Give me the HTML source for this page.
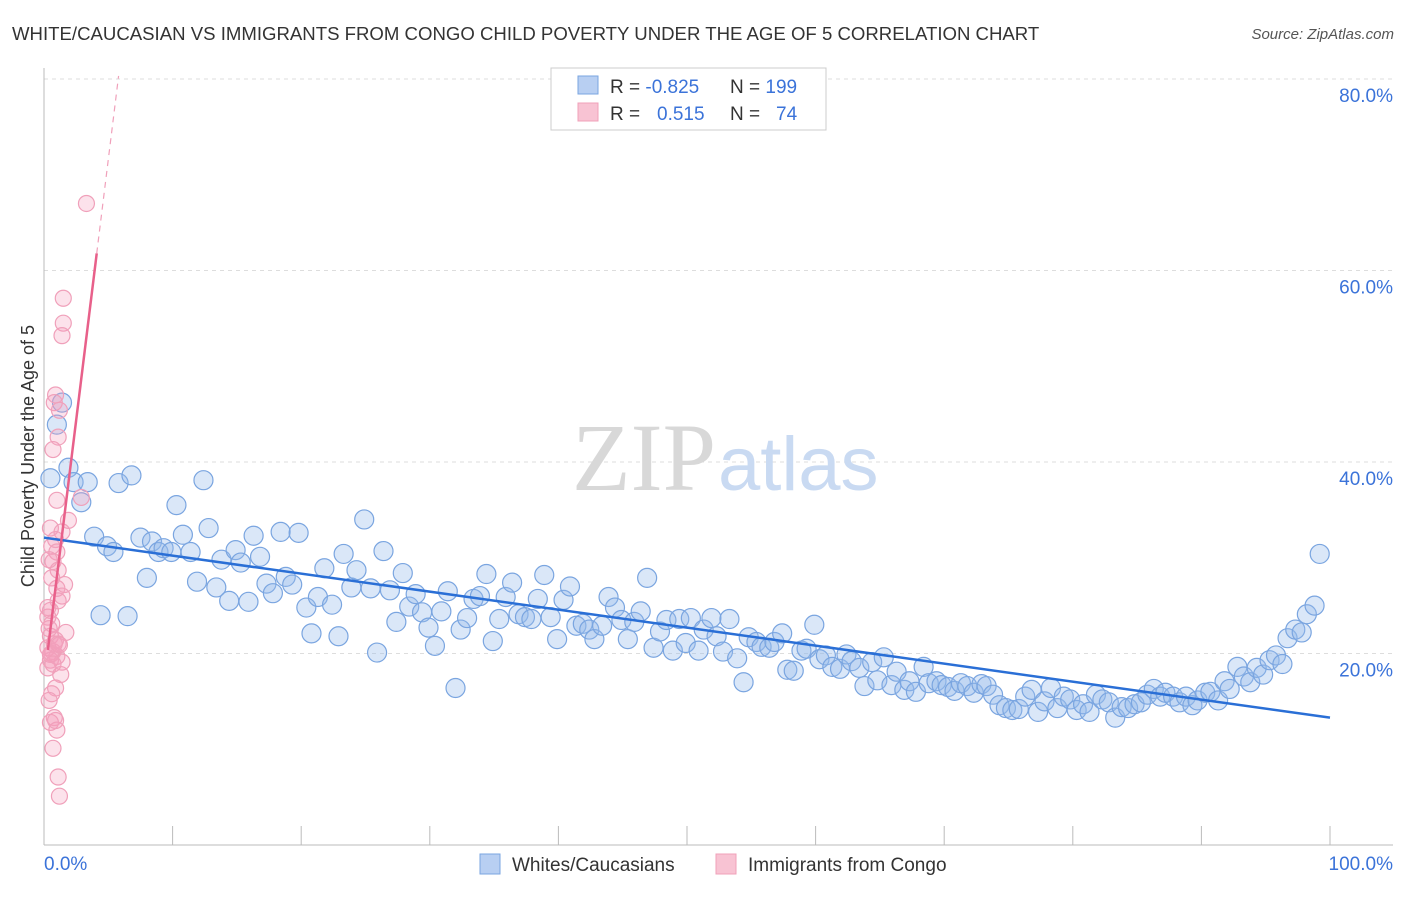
<!DOCTYPE html>
<html><head><meta charset="utf-8"><style>
body{margin:0;background:#fff;font-family:"Liberation Sans",sans-serif;}
svg text{font-family:"Liberation Sans",sans-serif;}
</style></head><body>
<svg id="chart" width="1406" height="892" viewBox="0 0 1406 892" xmlns="http://www.w3.org/2000/svg">
<text x="12" y="40" font-size="18.6" fill="#333">WHITE/CAUCASIAN VS IMMIGRANTS FROM CONGO CHILD POVERTY UNDER THE AGE OF 5 CORRELATION CHART</text>
<text x="1394" y="39" font-size="15" fill="#555" font-style="italic" text-anchor="end">Source: ZipAtlas.com</text>
<g id="grid"></g>
<g id="axes"></g>
<text x="716" y="490" font-size="96" fill="#d8d8d8" text-anchor="end" style="font-family:'Liberation Serif',serif">ZIP</text>
<text x="718" y="490" font-size="76" fill="#c9daf2">atlas</text>
<g id="pts"></g>
<g id="lines"></g>
<text transform="translate(34,456) rotate(-90)" font-size="18" fill="#333" text-anchor="middle">Child Poverty Under the Age of 5</text>
<g>
<rect x="551" y="68" width="275" height="62" fill="#fff" stroke="#ccc"/>
<rect x="578" y="76" width="20" height="18" fill="#b8cff2" stroke="#7aa5e0"/>
<rect x="578" y="103" width="20" height="18" fill="#f8c3d3" stroke="#f0a0ba"/>
<text x="610" y="93" font-size="19" fill="#333">R = <tspan fill="#3b73d9">-0.825</tspan><tspan x="730">N = </tspan><tspan fill="#3b73d9">199</tspan></text>
<text x="610" y="120" font-size="19" fill="#333">R = <tspan x="657" fill="#3b73d9">0.515</tspan><tspan x="730">N = </tspan><tspan x="776" fill="#3b73d9">74</tspan></text>
</g>
<g>
<rect x="480" y="854" width="20" height="20" fill="#b8cff2" stroke="#7aa5e0"/>
<text x="512" y="871" font-size="19" fill="#333">Whites/Caucasians</text>
<rect x="716" y="854" width="20" height="20" fill="#f8c3d3" stroke="#f0a0ba"/>
<text x="748" y="871" font-size="19" fill="#333">Immigrants from Congo</text>
</g>
</svg>
<script>
const yTicks=[20,40,60,80];
const yTickLabels=["20.0%","40.0%","60.0%","80.0%"];
const xTickLabels=["0.0%","100.0%"];
const blueX=[0.5,1.0,1.4,1.9,2.3,2.9,3.4,3.9,4.4,4.9,5.4,5.8,6.5,6.8,8.0,7.5,8.4,8.9,9.3,9.9,10.3,10.8,11.4,11.9,12.4,12.8,13.4,13.8,14.4,14.9,15.3,15.9,16.3,16.8,17.3,17.8,18.4,18.8,19.3,19.8,20.4,20.8,21.3,21.8,22.4,22.9,23.3,23.9,24.3,24.9,25.4,25.9,26.4,26.9,27.4,27.9,28.4,28.9,29.4,29.9,30.4,30.9,31.4,32.0,32.4,32.9,33.4,33.9,34.4,34.9,35.4,35.9,36.4,36.9,37.4,37.9,38.4,38.9,39.4,39.9,40.4,40.9,41.4,41.9,42.4,42.8,43.4,43.9,44.4,44.9,45.4,45.9,46.4,46.9,47.4,47.9,48.4,48.9,49.4,49.9,50.3,50.9,51.3,51.9,52.3,52.8,53.3,53.9,54.4,54.8,55.4,55.8,56.4,56.8,57.4,57.8,58.3,58.9,59.3,59.9,60.3,60.8,61.3,61.9,62.4,62.8,63.4,63.8,64.4,64.8,65.3,65.9,66.3,66.9,67.3,67.8,68.4,68.8,69.4,69.8,70.3,70.8,71.3,71.8,72.3,72.9,73.3,73.8,74.3,74.8,75.3,75.8,76.3,76.8,77.3,77.8,78.3,78.8,79.3,79.8,80.3,80.8,81.3,81.8,82.3,82.8,83.3,83.8,84.3,84.8,85.3,85.8,86.3,86.8,87.2,87.8,88.3,88.8,89.3,89.7,90.3,90.7,91.3,91.8,92.2,92.8,93.3,93.8,94.3,94.8,95.3,95.8,96.3,96.7,97.3,97.8,98.2,98.8,99.2];
const blueY=[38.3,43.9,46.2,39.4,37.9,35.8,37.9,32.2,24.0,31.2,30.6,37.8,23.9,38.6,27.9,32.1,31.7,30.6,31.0,30.6,35.5,32.4,30.6,27.5,38.1,33.1,26.9,29.8,25.5,30.8,29.5,25.4,32.3,30.1,27.3,26.3,32.7,28.0,27.2,32.6,24.8,22.1,25.9,28.9,25.1,21.8,30.4,26.9,28.7,34.0,26.8,20.1,30.7,26.6,23.3,28.4,24.9,26.2,24.3,22.7,20.8,24.4,26.5,16.4,22.5,23.7,25.7,26.0,28.3,21.3,23.6,25.9,27.4,24.1,23.8,23.6,25.7,28.2,23.8,21.5,25.6,27.0,22.9,23.1,22.5,21.5,22.9,25.9,24.8,23.5,21.5,23.3,24.4,27.9,20.6,22.3,23.5,20.3,23.6,21.1,23.7,20.3,22.5,23.7,21.8,20.2,23.6,19.5,17.0,21.7,21.2,20.7,20.6,21.2,22.1,18.3,18.2,20.3,20.5,23.0,19.4,19.8,18.6,18.4,19.9,19.2,18.5,16.6,19.1,17.2,19.6,16.7,18.1,16.2,17.1,16.0,18.6,16.9,17.1,16.7,16.5,16.1,16.9,16.6,15.9,16.8,16.6,15.7,14.6,14.3,14.1,14.2,15.5,16.2,13.9,15.0,16.4,14.3,15.5,15.2,14.1,14.7,13.9,15.7,15.2,14.9,13.3,14.4,14.3,14.7,14.9,15.7,16.3,15.5,15.9,15.5,14.9,15.5,14.6,15.1,15.9,16.0,15.1,17.1,16.3,18.6,17.6,17.0,18.5,17.8,19.3,19.8,18.9,21.6,22.5,22.2,24.1,25.0,30.4];
const pinkX=[3.3,1.5,1.5,1.4,0.9,0.8,1.2,1.1,0.7,2.9,1.0,1.9,0.5,1.4,0.9,0.6,1.0,0.7,1.1,0.6,1.6,1.0,1.4,1.1,0.5,0.3,0.6,1.7,0.5,0.9,1.1,0.3,0.7,1.0,0.5,1.4,0.3,1.3,0.9,0.6,0.4,0.8,0.5,1.0,0.7,1.1,1.2,0.4,0.8,0.6,0.3,0.9,0.5,1.2,0.7,0.4];
const pinkY=[67.0,57.1,54.5,53.2,47.0,46.2,45.4,42.6,41.3,36.3,36.0,33.9,33.1,32.7,31.9,31.2,30.6,29.6,28.7,27.9,27.2,26.8,26.0,25.5,24.5,23.8,23.1,22.2,21.8,21.4,21.0,20.6,20.2,19.7,19.3,19.1,18.5,17.8,16.4,15.8,15.1,13.3,12.8,12.0,10.1,7.1,5.1,22.6,21.0,20.0,24.8,13.0,19.9,20.9,18.9,29.8];
const blueFit=[32.1,13.3];
const pinkFit=[17.1,10.9];
const NS="http://www.w3.org/2000/svg";
const X0=44,X1=1330,YB=845,YPER=9.575;
const sx=v=>X0+(X1-X0)*v/100;
const sy=v=>YB-v*YPER;
function mk(tag,attrs,parent){const e=document.createElementNS(NS,tag);for(const k in attrs)e.setAttribute(k,attrs[k]);parent.appendChild(e);return e;}
const grid=document.getElementById('grid'),axes=document.getElementById('axes');
yTicks.forEach((t,i)=>{
  const l=mk('line',{x1:44,x2:1393,y1:sy(t),y2:sy(t),stroke:'#ddd','stroke-dasharray':'4,4'},grid);
  
  
  const tx=mk('text',{x:1393,y:sy(t)+23,'font-size':19,fill:'#3b73d9','text-anchor':'end'},axes);
  tx.textContent=yTickLabels[i];
  
  
});
mk('line',{x1:44,x2:44,y1:68,y2:845,stroke:'#bbb'},axes);
mk('line',{x1:44,x2:1393,y1:845,y2:845,stroke:'#bbb'},axes);
for(let i=0;i<=10;i++){mk('line',{x1:sx(i*10),x2:sx(i*10),y1:826,y2:845,stroke:'#bbb'},axes);}
[[0,'start',44],[1,'end',1393]].forEach(([i,a,x])=>{
  const t=mk('text',{x:x,y:870,'font-size':19,fill:'#3b73d9','text-anchor':a},axes);
  t.textContent=xTickLabels[i];
  
  
});
const pts=document.getElementById('pts');
blueX.forEach((x,i)=>{
  const c=mk('circle',{cx:sx(x),cy:sy(blueY[i]),r:9.5,fill:'rgba(150,185,235,0.35)',stroke:'#7aa5e0','stroke-width':1.2},pts);
  
  
});
pinkX.forEach((x,i)=>{
  const c=mk('circle',{cx:sx(x),cy:sy(pinkY[i]),r:8,fill:'rgba(245,160,190,0.3)',stroke:'#f0a0ba','stroke-width':1.2},pts);
  
  
});
const lines=document.getElementById('lines');
const bl=mk('line',{x1:sx(0),y1:sy(blueFit[0]),x2:sx(100),y2:sy(blueFit[1]),stroke:'#2a6fd6','stroke-width':2.5},lines);


const pf=x=>pinkFit[0]+pinkFit[1]*x;
const pl=mk('line',{x1:sx(0.3),y1:sy(pf(0.3)),x2:sx(4.1),y2:sy(pf(4.1)),stroke:'#e8608a','stroke-width':2.5},lines);


const pd=mk('line',{x1:sx(4.1),y1:sy(pf(4.1)),x2:sx(5.8),y2:sy(pf(5.8)),stroke:'#f0a0ba','stroke-width':1.2,'stroke-dasharray':'6,5'},lines);


</script>
</body></html>
